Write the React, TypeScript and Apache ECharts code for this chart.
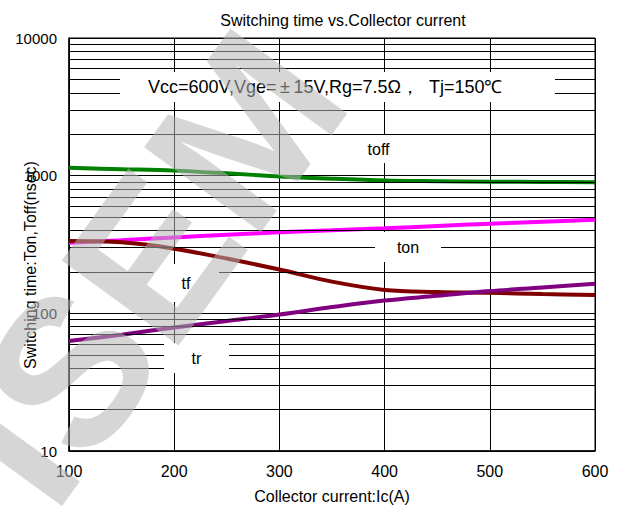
import React, { useEffect, useRef } from "react";
import * as echarts from "echarts";

const currents = [100, 150, 200, 250, 300, 350, 400, 450, 500, 550, 600];
const toff = [1140, 1115, 1088, 1040, 988, 950, 922, 912, 905, 900, 896];
const ton = [325, 340, 356, 372, 388, 401, 415, 431, 448, 463, 478];
const tf = [335, 328, 295, 250, 208, 170, 148, 143, 141, 138, 136];
const tr = [63, 70, 79, 88, 98, 111, 124, 134, 145, 154, 164];
const yMajorTicks = [10, 100, 1000, 10000];
const yMinorGrid = [
  20, 30, 40, 50, 60, 70, 80, 90,
  200, 300, 400, 500, 600, 700, 800, 900,
  2000, 3000, 4000, 5000, 6000, 7000, 8000, 9000,
];
const xTicks = [100, 200, 300, 400, 500, 600];

const FONT = "'Liberation Sans', Arial, sans-serif";

export default function App() {
  const ref = useRef<HTMLDivElement>(null);
  useEffect(() => {
    if (!ref.current) return;
    const chart = echarts.init(ref.current, null, { renderer: "svg" });
    const mk = (name: string, ys: number[], color: string) => ({
      name,
      type: "line",
      data: currents.map((x, i) => [x, ys[i]]),
      smooth: 0.35,
      symbol: "none",
      lineStyle: { color, width: 4 },
      z: 3,
    });
    const box = (x: number, y: number, w: number, h: number, text: string, fs = 16, tx?: number) => ({
      type: "group",
      z: 50,
      children: [
        { type: "rect", shape: { x, y, width: w, height: h }, style: { fill: "#fff" }, z: 50 },
        {
          type: "text",
          x: tx !== undefined ? tx : x + w / 2,
          y: y + h / 2,
          z: 51,
          style: {
            text,
            fill: "#000",
            font: `${fs}px ${FONT}`,
            textAlign: tx !== undefined ? "left" : "center",
            textVerticalAlign: "middle",
          },
        },
      ],
    });
    chart.setOption({
      animation: false,
      backgroundColor: "#fff",
      textStyle: { fontFamily: FONT },
      title: {
        text: "Switching time vs.Collector current",
        left: 338,
        textAlign: "center",
        top: 7,
        textStyle: { fontSize: 16, fontWeight: "normal", color: "#000", fontFamily: FONT },
      },
      grid: { left: 69, right: 26, top: 38, bottom: 55, show: true, borderColor: "#000", borderWidth: 1 },
      xAxis: {
        type: "value",
        min: 100,
        max: 600,
        interval: 100,
        name: "Collector current:Ic(A)",
        nameLocation: "middle",
        nameGap: 37,
        nameTextStyle: { fontSize: 16, color: "#000", fontFamily: FONT },
        axisLine: { lineStyle: { color: "#000", width: 1.5 } },
        axisTick: { show: false },
        axisLabel: {
          fontSize: 16,
          color: "#000",
          margin: 12,
          fontFamily: FONT,
          formatter: (v: number) => (xTicks.includes(v) ? String(v) : ""),
        },
        splitLine: { show: true, lineStyle: { color: "#000", width: 1 } },
      },
      yAxis: {
        type: "log",
        logBase: 10,
        min: yMajorTicks[0],
        max: yMajorTicks[yMajorTicks.length - 1],
        axisLine: { lineStyle: { color: "#000", width: 1.5 } },
        axisTick: { show: false },
        axisLabel: {
          fontSize: 15,
          color: "#000",
          margin: 12,
          fontFamily: FONT,
          formatter: (v: number) => String(Math.round(v)),
        },
        splitLine: { show: true, lineStyle: { color: "#000", width: 1 } },
      },
      series: [
        {
          type: "line",
          data: [[100, 10]],
          symbol: "none",
          lineStyle: { opacity: 0 },
          silent: true,
          z: 1,
          markLine: {
            silent: true,
            symbol: ["none", "none"],
            label: { show: false },
            lineStyle: { color: "#000", width: 1, type: "solid" },
            data: yMinorGrid.map((v) => ({ yAxis: v })),
          },
        },
        mk("toff", toff, "#008000"),
        mk("ton", ton, "#ff00ff"),
        mk("tf", tf, "#800000"),
        mk("tr", tr, "#800080"),
      ],
      graphic: [
        box(120, 72, 435, 30, "Vcc=600V,Vge=\u2009\u00b1\u200915V,Rg=7.5\u03a9\uff0c  Tj=150\u2103", 18, 148),
        box(346, 135, 65, 28, "toff"),
        box(375, 232, 66, 30, "ton"),
        box(153, 264, 66, 38, "tf"),
        box(164, 343, 65, 30, "tr"),
        {
          type: "text",
          x: 30,
          y: 265,
          rotation: Math.PI / 2,
          z: 60,
          style: {
            text: "Switching time:Ton,Toff(nsec)",
            fill: "#000",
            font: `16px ${FONT}`,
            textAlign: "center",
            textVerticalAlign: "middle",
          },
        },
        {
          type: "text",
          x: 146,
          y: 267,
          rotation: (54 * Math.PI) / 180,
          z: 100,
          silent: true,
          style: {
            text: "ISEM",
            fill: "rgba(180,180,180,0.55)",
            font: `bold 210px ${FONT}`,
            textAlign: "center",
            textVerticalAlign: "middle",
          },
        },
      ],
    });
    return () => chart.dispose();
  }, []);
  return <div ref={ref} style={{ position: "fixed", left: 0, top: 0, width: 621, height: 509 }} />;
}
